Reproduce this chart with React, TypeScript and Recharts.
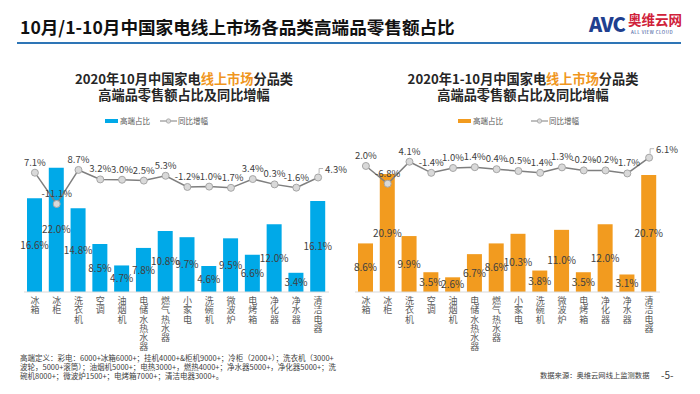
import React from "react";
import { ComposedChart, Bar, Line, XAxis, YAxis, LabelList } from "recharts";

const categories = ["冰箱", "冰柜", "洗衣机", "空调", "油烟机", "电储水热水器", "燃气热水器", "小家电", "洗碗机", "微波炉", "电烤箱", "净化器", "净水器", "清洁电器"];
const octShare = [16.6, 22.0, 14.8, 8.5, 4.7, 7.8, 10.8, 9.7, 4.6, 9.5, 6.6, 12.0, 3.4, 16.1];
const octGrowth = [7.1, -11.1, 8.7, 3.2, 3.0, 2.5, 5.3, -1.2, -1.0, -1.7, 3.4, 0.3, -1.6, 4.3];
const ytdShare = [8.6, 20.9, 9.9, 3.5, 2.6, 6.7, 8.6, 10.3, 3.8, 11.0, 3.5, 12.0, 3.1, 20.7];
const ytdGrowth = [2.0, -6.8, 4.1, -1.4, 1.0, 1.4, 0.4, -0.5, -1.4, 1.3, -0.2, -0.2, -1.7, 6.1];

const FONT = '"Noto Sans CJK SC", "Noto Sans", sans-serif';
const BLUE = "#00a9e8";
const ORANGE = "#f29b1f";
const pct = (v: number) => v.toFixed(1) + "%";

// category names are written top to bottom, one glyph per row
function VTick(props: any) {
  const { x, y, payload } = props;
  return (
    <text
      x={x}
      y={y + 4}
      fontSize={9}
      fill="#595959"
      fontFamily={FONT}
      style={{ writingMode: "vertical-rl", textOrientation: "upright", letterSpacing: "0.3px" }}
    >
      {String(payload.value)}
    </text>
  );
}

function GrowthLabel(props: any) {
  const { x, y, value, index } = props;
  if (index === categories.length - 1) {
    return (
      <g>
        <path d={`M${x + 1},${y - 4} V${y - 9} H${x + 5}`} stroke="#a6a6a6" fill="none" strokeWidth={0.8} />
        <text x={x + 7} y={y - 5} fontSize={9.5} fill="#404040" fontFamily={FONT}>{pct(value)}</text>
      </g>
    );
  }
  return (
    <text x={x} y={y - 7} textAnchor="middle" fontSize={9.5} fill="#404040" fontFamily={FONT}>
      {pct(value)}
    </text>
  );
}

type PanelProps = {
  left: number;
  share: number[];
  growth: number[];
  color: string;
  margin: { top: number; left: number; right: number; bottom: number };
  lineDomain: [number, number];
};

function Panel({ left, share, growth, color, margin, lineDomain }: PanelProps) {
  const data = categories.map((name, i) => ({ name, share: share[i], growth: growth[i] }));
  return (
    <div style={{ position: "absolute", left, top: 0 }}>
      <ComposedChart width={350} height={394} data={data} margin={margin}>
        <XAxis
          dataKey="name"
          interval={0}
          tickLine={false}
          tickSize={0}
          tickMargin={0}
          axisLine={{ stroke: "#d9d9d9" }}
          tick={<VTick />}
          height={60}
        />
        <YAxis yAxisId="bar" hide domain={[0, 25.13]} allowDataOverflow />
        <YAxis yAxisId="line" hide domain={lineDomain} allowDataOverflow />
        <Bar yAxisId="bar" dataKey="share" fill={color} barSize={15} isAnimationActive={false}>
          <LabelList dataKey="share" position="center" formatter={(v: any) => pct(Number(v))} fill="#404040" fontSize={10} fontFamily={FONT} />
        </Bar>
        <Line
          yAxisId="line"
          type="linear"
          dataKey="growth"
          stroke="#7f7f7f"
          strokeWidth={1.5}
          dot={{ r: 3.5, fill: "#d9d9d9", stroke: "#a6a6a6", strokeWidth: 1 }}
          isAnimationActive={false}
        >
          <LabelList dataKey="growth" content={<GrowthLabel />} />
        </Line>
      </ComposedChart>
    </div>
  );
}

function ChartTitle({ cx, line1a }: { cx: number; line1a: string }) {
  return (
    <div style={{ position: "absolute", left: cx - 150, top: 71, width: 300, textAlign: "center", fontWeight: 700, fontSize: 13.2, lineHeight: "16px", color: "#262626" }}>
      <div>
        {line1a}
        <span style={{ color: "#f0961e" }}>线上市场</span>分品类
      </div>
      <div>高端品零售额占比及同比增幅</div>
    </div>
  );
}

function Legend({ x, color, lineX }: { x: number; color: string; lineX: number }) {
  return (
    <>
      <div style={{ position: "absolute", left: x, top: 119, width: 13, height: 4, background: color }} />
      <div style={{ position: "absolute", left: x + 15, top: 115, fontSize: 7.5, lineHeight: "12px", color: "#595959" }}>高端占比</div>
      <svg style={{ position: "absolute", left: lineX, top: 116 }} width={17} height={10}>
        <line x1={0} y1={5} x2={17} y2={5} stroke="#7f7f7f" strokeWidth={1} />
        <circle cx={8.5} cy={5} r={2.2} fill="#d9d9d9" stroke="#a6a6a6" strokeWidth={0.8} />
      </svg>
      <div style={{ position: "absolute", left: lineX + 18, top: 115, fontSize: 7.5, lineHeight: "12px", color: "#595959" }}>同比增幅</div>
    </>
  );
}

export default function App() {
  return (
    <div style={{ position: "absolute", left: 0, top: 0, width: 700, height: 394, background: "#fff", fontFamily: FONT, overflow: "hidden" }}>
      <div style={{ position: "absolute", left: 20, top: 16, fontSize: 17.6, fontWeight: 700, lineHeight: "22px", color: "#111" }}>
        10月/1-10月中国家电线上市场各品类高端品零售额占比
      </div>
      <div style={{ position: "absolute", left: 17, top: 42, width: 664, height: 2, background: "#2e75b6" }} />
      <div style={{ position: "absolute", left: 589, top: 12, fontSize: 20, fontWeight: 900, lineHeight: "24px", color: "#1f3f8f", letterSpacing: -1 }}>AVC</div>
      <div style={{ position: "absolute", left: 628, top: 11, fontSize: 13.5, fontWeight: 700, lineHeight: "17px", color: "#d0213a" }}>奥维云网</div>
      <div style={{ position: "absolute", left: 631, top: 30, fontSize: 4.5, lineHeight: "5px", color: "#1f3f8f", letterSpacing: 0.5 }}>ALL VIEW CLOUD</div>

      <ChartTitle cx={184} line1a="2020年10月中国家电" />
      <ChartTitle cx={523} line1a="2020年1-10月中国家电" />
      <Legend x={105} color={BLUE} lineX={160} />
      <Legend x={458} color={ORANGE} lineX={531} />

      <Panel left={0} share={octShare} growth={octGrowth} color={BLUE} margin={{ top: 150, left: 24, right: 21, bottom: 42 }} lineDomain={[-62.3, 20.3]} />
      <Panel left={350} share={ytdShare} growth={ytdGrowth} color={ORANGE} margin={{ top: 150, left: 5, right: 40, bottom: 42 }} lineDomain={[-60.5, 9.92]} />

      <div style={{ position: "absolute", left: 20, top: 353, width: 345, fontSize: 7.5, lineHeight: "9px", color: "#404040" }}>
        <div>高端定义：彩电：6000+冰箱6000+；挂机4000+&amp;柜机9000+；冷柜（2000+）；洗衣机（3000+</div>
        <div>波轮，5000+滚筒）；油烟机5000+；电热3000+，燃热4000+；净水器5000+，净化器5000+；洗</div>
        <div>碗机8000+；微波炉1500+；电烤箱7000+；清洁电器3000+。</div>
      </div>
      <div style={{ position: "absolute", left: 540, top: 370, fontSize: 7.3, lineHeight: "10px", color: "#404040" }}>数据来源：奥维云网线上监测数据</div>
      <div style={{ position: "absolute", left: 661, top: 368, fontSize: 10, lineHeight: "14px", color: "#404040" }}>-5-</div>
    </div>
  );
}
